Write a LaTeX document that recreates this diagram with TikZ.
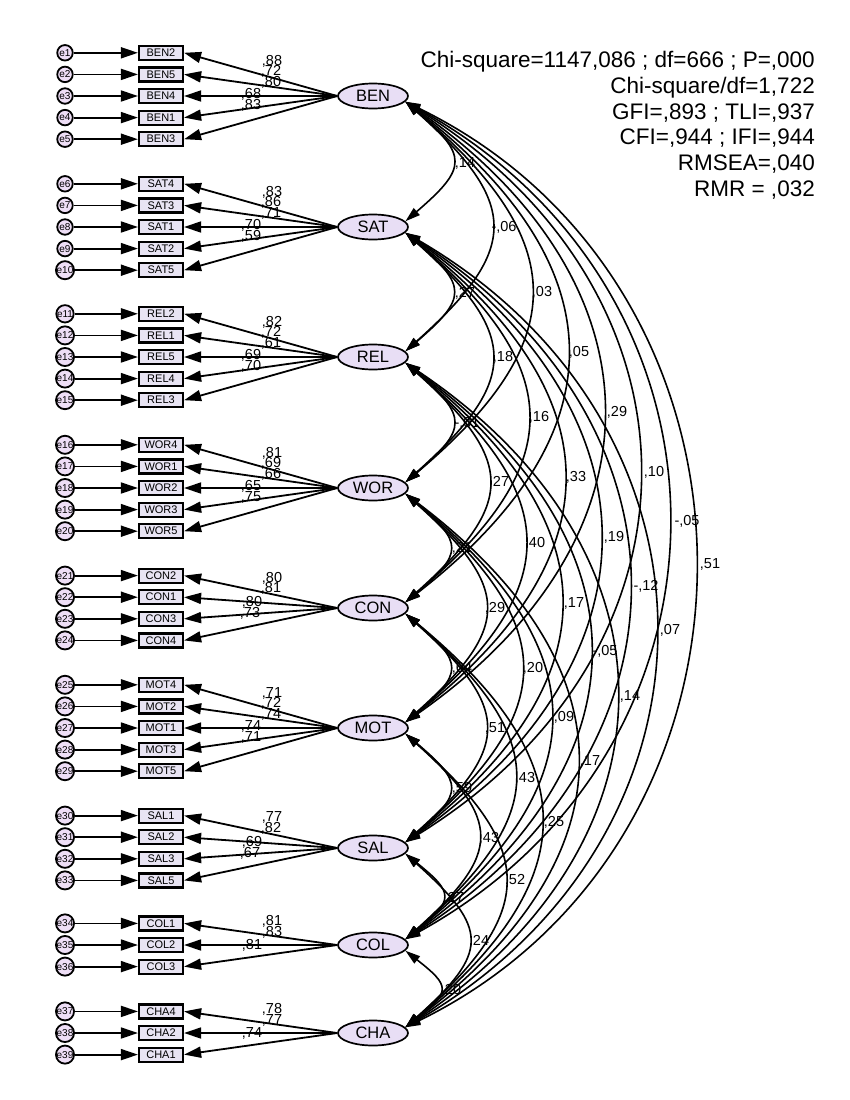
\documentclass[tikz,border=0pt]{standalone}
\usepackage{fontspec}
\setmainfont{Liberation Sans}
\usetikzlibrary{arrows.meta,shapes.geometric,calc}
\definecolor{latfill}{RGB}{232,222,245}
\definecolor{boxfill}{RGB}{232,228,243}
\definecolor{errfill}{RGB}{238,222,246}
\tikzset{
  latent/.style={ellipse, draw, line width=1.7pt, fill=latfill, minimum width=70pt, minimum height=25pt, inner sep=0pt, font=\fontsize{16.5}{16.5}\selectfont},
  indic/.style={rectangle, draw, line width=2.2pt, fill=boxfill, minimum width=44pt, minimum height=14pt, inner sep=0pt, font=\fontsize{11}{11}\selectfont},
  err/.style={circle, draw, line width=1.8pt, fill=errfill, minimum size=15.5pt, inner sep=0pt, font=\fontsize{10}{10}\selectfont},
  path1/.style={line width=1.8pt, -{Triangle[length=17pt,width=11pt]}},
  cov/.style={line width=1.6pt, {Triangle[length=15pt,width=9pt]}-{Triangle[length=15pt,width=9pt]}},
  lab/.style={font=\fontsize{14.5}{14.5}\selectfont, inner sep=0pt},
  fitt/.style={font=\fontsize{22.5}{22.5}\selectfont, anchor=east, inner sep=0pt, text height=16pt, text depth=4pt}
}
\begin{document}
\begin{tikzpicture}[x=1pt,y=1pt]
\useasboundingbox (0,0) rectangle (850,-1100);
% latent variables
\node[latent] (BEN) at (373,-96) {BEN};
\node[latent] (SAT) at (373,-227) {SAT};
\node[latent] (REL) at (373,-357) {REL};
\node[latent] (WOR) at (373,-488) {WOR};
\node[latent] (CON) at (373,-608) {CON};
\node[latent] (MOT) at (373,-728) {MOT};
\node[latent] (SAL) at (373,-848) {SAL};
\node[latent] (COL) at (373,-945) {COL};
\node[latent] (CHA) at (373,-1033) {CHA};
% indicators and errors
\foreach \n/\y/\e/\l in {
BEN2/52.8/1/BEN, BEN5/74.4/2/BEN, BEN4/96/3/BEN, BEN1/117.6/4/BEN, BEN3/139.2/5/BEN,
SAT4/183.8/6/SAT, SAT3/205.4/7/SAT, SAT1/227/8/SAT, SAT2/248.6/9/SAT, SAT5/270.2/10/SAT,
REL2/313.8/11/REL, REL1/335.4/12/REL, REL5/357/13/REL, REL4/378.6/14/REL, REL3/400.2/15/REL,
WOR4/444.8/16/WOR, WOR1/466.4/17/WOR, WOR2/488/18/WOR, WOR3/509.6/19/WOR, WOR5/531.2/20/WOR,
CON2/575.6/21/CON, CON1/597.2/22/CON, CON3/618.8/23/CON, CON4/640.4/24/CON,
MOT4/684.8/25/MOT, MOT2/706.4/26/MOT, MOT1/728/27/MOT, MOT3/749.6/28/MOT, MOT5/771.2/29/MOT,
SAL1/815.6/30/SAL, SAL2/837.2/31/SAL, SAL3/858.8/32/SAL, SAL5/880.4/33/SAL,
COL1/923.4/34/COL, COL2/945/35/COL, COL3/966.6/36/COL,
CHA4/1011.4/37/CHA, CHA2/1033/38/CHA, CHA1/1054.6/39/CHA}
{
  \node[indic] (\n) at (161,-\y) {\n};
  \node[err] (e\e) at (65,-\y) {e\e};
  \draw[path1] (e\e) -- (\n);
  \draw[path1] (\l.west) -- (\n.east);
}
% loading labels
\foreach \t/\x/\y [count=\i] in {
{,88}/272/61, {,72}/271/71, {,80}/271/82, {,68}/251/94, {,83}/251/105,
{,83}/272/192, {,86}/271/202, {,71}/271/213, {,70}/251/225, {,59}/251/236,
{,82}/272/322, {,72}/271/332, {,61}/271/343, {,69}/251/355, {,70}/251/366,
{,81}/272/453, {,69}/271/463, {,66}/271/474, {,65}/251/486, {,75}/251/497,
{,80}/272/578, {,81}/271/588, {,80}/252/602, {,73}/250/613,
{,71}/272/693, {,72}/271/703, {,74}/271/714, {,74}/251/726, {,71}/251/737,
{,77}/272/817, {,82}/271/828, {,69}/252/842, {,67}/250/853,
{,81}/272/921, {,83}/272/932, {,81}/252/945,
{,78}/272/1009, {,77}/272/1020, {,74}/252/1033}
{ \node[lab] (ld\i) at (\x,-\y) {\t}; }
% covariances
\foreach \a/\b in {
BEN/SAT, BEN/REL, BEN/WOR, BEN/CON, BEN/MOT, BEN/SAL, BEN/COL, BEN/CHA,
SAT/REL, SAT/WOR, SAT/CON, SAT/MOT, SAT/SAL, SAT/COL, SAT/CHA,
REL/WOR, REL/CON, REL/MOT, REL/SAL, REL/COL, REL/CHA,
WOR/CON, WOR/MOT, WOR/SAL, WOR/COL, WOR/CHA,
CON/MOT, CON/SAL, CON/COL, CON/CHA,
MOT/SAL, MOT/COL, MOT/CHA,
SAL/COL, SAL/CHA,
COL/CHA}
{
  \draw[cov] let \p1=(\a.-10), \p2=(\b.10), \n1={\y1-\y2}, \n2={(0.3*\n1+11)/0.75}, \n3={min(0.47,0.45-0.0003*(\n1-116))*\n1} in
    (\a.-10) .. controls ($(\a.-10)+(\n2,-\n3)$) and ($(\b.10)+(\n2,\n3)$) .. (\b.10);
}
% covariance labels
\foreach \t/\x/\y [count=\i] in {
{,14}/465/163, {-,06}/504/227, {,27}/465/293, {,03}/542/292, {,18}/503/357,
{,05}/579/352, {-,01}/467/423, {,16}/539/417, {,29}/617/412, {,27}/499/482,
{,33}/576/477, {,10}/654/472, {-,05}/687/521, {,21}/462/548, {,40}/535/543,
{,19}/614/537, {,51}/710/564, {-,12}/646/586, {,17}/574/603, {,29}/495/608,
{,07}/670/630, {,64}/462/668, {,20}/533/668, {-,05}/605/651, {,14}/630/696,
{,09}/564/717, {,51}/495/728, {,17}/590/761, {,43}/525/778, {,59}/462/788,
{,25}/554/822, {,43}/489/838, {,52}/515/880, {,27}/454/898, {,24}/479/941,
{,20}/451/990}
{ \node[lab] (cv\i) at (\x,-\y) {\t}; }
% fit indices
\node[fitt] (f1) at (815,-61) {Chi-square=1147,086 ; df=666 ; P=,000};
\node[fitt] (f2) at (815,-87) {Chi-square/df=1,722};
\node[fitt] (f3) at (815,-113) {GFI=,893 ; TLI=,937};
\node[fitt] (f4) at (815,-138) {CFI=,944 ; IFI=,944};
\node[fitt] (f5) at (815,-164) {RMSEA=,040};
\node[fitt] (f6) at (815,-190) {RMR = ,032};
\end{tikzpicture}
\end{document}
